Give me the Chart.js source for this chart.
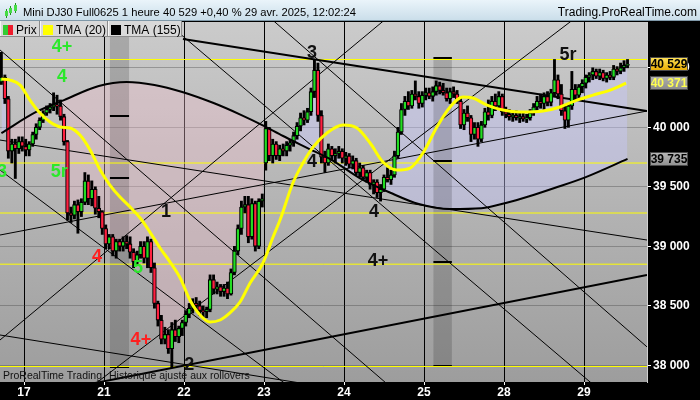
<!DOCTYPE html>
<html>
<head>
<meta charset="utf-8">
<title>Mini DJ30 Full0625 - 1 heure</title>
<script src="https://cdn.jsdelivr.net/npm/chart.js@4.4.1/dist/chart.umd.min.js"></script>
<style>
  html, body { margin: 0; padding: 0; background: #000; }
  canvas { display: block; }
</style>
</head>
<body>
<canvas id="myChart" width="700" height="400"></canvas>
<script>
// header / footer texts
const titleText = 'Mini DJ30 Full0625 1 heure 40 529 +0,40 % 29 avr. 2025, 12:02:24';
const siteText = 'Trading.ProRealTime.com';
const footText = ['ProRealTime Trading', 'Historique ajusté aux rollovers'];
const legendItems = ['Prix', 'TMA (20)', 'TMA (155)'];

// day separators (in bar units) and their labels
const dayStarts = [6.5, 29.5, 52.5, 75.5, 98.5, 121.5, 144.5, 167.5];
const dayLabels = ['17', '21', '22', '23', '24', '25', '28', '29'];
const priceTicks = [38000, 38500, 39000, 39500, 40000, 40500];

// hourly candles, bar 0 = 16 avr. 17h
const opens = [
  40380,40420,40240,39800,39860,39820,39880,39840,39810,39860,
  39940,40000,40060,40120,40150,40170,40190,40180,40090,39880,
  39280,39260,39350,39290,39370,39550,39400,39480,39320,39290,
  39150,39020,39080,38960,39040,39000,39040,39020,38950,38870,
  38930,39000,38900,39040,38820,38520,38380,38220,38260,38140,
  38300,38240,38310,38360,38430,38480,38520,38500,38460,38450,
  38470,38720,38640,38660,38620,38650,38600,38780,38960,39150,
  39330,39350,39080,39360,39000,39380,39700,39990,39760,39860,
  39760,39820,39800,39850,39870,39930,40010,40080,40060,40130,
  40300,40480,40100,39750,39700,39820,39760,39780,39800,39740,
  39760,39690,39720,39620,39660,39580,39620,39520,39540,39450,
  39480,39580,39560,39600,39760,39960,40150,40220,40180,40280,
  40260,40200,40270,40290,40260,40300,40350,40310,40290,40240,
  40300,40280,40220,40020,40120,40080,39940,40000,39900,40020,
  40130,40100,40220,40180,40260,40130,40110,40090,40100,40080,
  40090,40070,40080,40120,40170,40220,40200,40260,40210,40290,
  40400,40280,40140,40060,40180,40320,40270,40340,40370,40420,
  40440,40470,40430,40460,40410,40440,40420,40490,40470,40500,40520
];
const highs = [
  40630,40440,40260,39900,39900,39920,39920,39900,39880,39960,
  40030,40080,40140,40180,40200,40290,40270,40230,40110,39890,
  39330,39380,39390,39400,39620,39600,39550,39500,39420,39300,
  39180,39100,39100,39060,39060,39080,39090,39080,38980,38960,
  39040,39040,39080,39060,38860,38540,38420,38320,38300,38360,
  38380,38330,38380,38460,38520,38560,38570,38540,38500,38490,
  38760,38760,38700,38680,38680,38700,38810,39000,39180,39380,
  39420,39420,39400,39380,39400,39440,40050,40000,39900,39880,
  39850,39860,39880,39900,39960,40040,40120,40140,40160,40330,
  40570,40540,40140,39800,39860,39840,39820,39840,39820,39790,
  39780,39760,39740,39700,39680,39640,39640,39560,39560,39520,
  39600,39660,39640,39800,40000,40200,40260,40300,40310,40390,
  40300,40300,40330,40330,40340,40390,40380,40370,40330,40330,
  40340,40310,40250,40150,40180,40100,40040,40040,40050,40160,
  40230,40260,40280,40300,40280,40170,40150,40130,40140,40120,
  40130,40110,40150,40200,40260,40280,40290,40300,40320,40570,
  40440,40360,40180,40200,40470,40360,40360,40400,40440,40460,
  40500,40490,40490,40480,40460,40470,40520,40510,40540,40560,40570
];
const lows = [
  40360,40200,39740,39700,39570,39780,39800,39760,39760,39840,
  39900,39980,40040,40100,40120,40140,40110,40060,39850,39220,
  39200,39230,39110,39250,39350,39350,39340,39270,39240,39100,
  38980,38980,38920,38900,38960,38960,38980,38900,38820,38850,
  38900,38860,38820,38780,38480,38330,38180,38180,38100,37980,
  38200,38190,38250,38330,38400,38440,38460,38420,38400,38400,
  38450,38600,38600,38580,38580,38560,38590,38760,38930,39100,
  39280,39030,39060,38960,38980,39330,39640,39720,39700,39730,
  39720,39760,39760,39800,39840,39900,39970,40020,40040,40100,
  40250,40050,39700,39620,39680,39720,39700,39740,39700,39680,
  39660,39650,39600,39580,39560,39540,39480,39440,39410,39380,
  39460,39540,39520,39580,39740,39940,40100,40150,40160,40230,
  40160,40170,40230,40240,40220,40270,40280,40270,40220,40200,
  40250,40200,39990,39980,40050,39880,39900,39840,39880,40000,
  40060,40080,40140,40150,40100,40080,40060,40050,40060,40040,
  40050,40040,40060,40100,40140,40160,40150,40180,40180,40260,
  40240,40100,39990,40000,40150,40230,40240,40290,40330,40380,
  40400,40410,40400,40390,40380,40400,40400,40440,40450,40470,40500
];
const closes = [
  40420,40240,39800,39860,39820,39880,39840,39810,39860,39940,
  40000,40060,40120,40150,40170,40190,40180,40090,39880,39280,
  39260,39350,39290,39370,39550,39400,39480,39320,39290,39150,
  39020,39080,38960,39040,39000,39040,39020,38950,38870,38930,
  39000,38900,39040,38820,38520,38380,38220,38260,38140,38300,
  38240,38310,38360,38430,38480,38520,38500,38460,38450,38470,
  38720,38640,38660,38620,38650,38600,38780,38960,39150,39330,
  39350,39080,39360,39000,39380,39400,39990,39760,39860,39760,
  39820,39800,39850,39870,39930,40010,40080,40060,40130,40300,
  40480,40100,39750,39700,39820,39760,39780,39800,39740,39760,
  39690,39720,39620,39660,39580,39620,39520,39540,39450,39480,
  39580,39560,39600,39760,39960,40150,40220,40180,40280,40260,
  40200,40270,40290,40260,40300,40350,40310,40290,40240,40300,
  40280,40220,40020,40120,40080,39940,40000,39900,40020,40130,
  40100,40220,40180,40260,40130,40110,40090,40100,40080,40090,
  40070,40080,40120,40170,40220,40200,40260,40210,40290,40400,
  40280,40140,40060,40180,40320,40270,40340,40370,40420,40440,
  40470,40430,40460,40410,40440,40420,40490,40470,40500,40520,40529
];

// moving averages at some bars
const tma20Bars = [0,2.5,5.4,8.2,11.1,14.0,16.9,19.7,22.6,25.5,28.4,31.2,34.1,37.0,39.9,42.7,45.6,48.5,51.4,54.2,57.1,60.0,62.9,65.7,68.6,71.5,75.2,78.1,80.1,83.8,86.7,89.6,93.6,98.2,102.2,106.0,109.7,113.7,117.5,121.2,125.2,129.0,132.7,135.6,139.6,144.2,149.1,155.7,160.6,165.5,170.1,175.0,179.6];
const tma20 = [40406,40397,40355,40229,40120,40044,40003,39994,39935,39809,39641,39515,39414,39330,39238,39120,38986,38868,38734,38549,38423,38364,38381,38440,38532,38692,38860,39078,39221,39532,39700,39834,39952,40019,39994,39868,39708,39641,39658,39784,40003,40171,40255,40246,40187,40145,40129,40137,40171,40229,40271,40313,40371];
const tma155Bars = [0,10,18,28,36,44,52,61,69,75,81,88,95,103,112,120,129,138,145,152,159,168,180];
const tma155 = [39952,40129,40229,40347,40381,40356,40297,40204,40103,40019,39927,39826,39725,39574,39448,39355,39313,39320,39364,39423,39490,39582,39735];

// horizontal levels
const levels = [40570, 39700, 39280, 38850, 37990];

// trend lines: [bar, price] at both ends
const thickTrends = [
  [[52.2, 40742], [185.6, 40137]],
  [[16.9, 37794], [185.6, 38759]]
];
const thinTrends = [
  [[-0.4, 40650], [114.6, 37750]],
  [[-0.4, 39893], [185.6, 39053]],
  [[-0.4, 39095], [185.6, 40137]],
  [[74.7, 40985], [185.6, 38155]],
  [[43.3, 40986], [171.9, 37794]],
  [[-0.4, 38213], [113.6, 40986]],
  [[25.4, 37810], [168.0, 40986]],
  [[-0.4, 39641], [84.4, 37785]],
  [[-0.4, 38255], [94.8, 37810]]
];

// grey time zones with their marks
const zoneFrom = [31.2, 124.2];
const zoneTo = [36.7, 129.5];
const zoneTop = [40885, 40585];
const zoneBottom = [37988, 37997];
const zoneMarks = [[40097, 39576, 37988], [40585, 39717, 38866, 37997]];

// wave counts
const waveText = ['4+', '4', '3', '5r', '4', '5', '4+', '1', '2', '3', '4', '4', '4+', '5r'];
const waveBar = [17.4, 17.4, 0.2, 16.6, 27.5, 39.3, 40.1, 47.3, 54.0, 89.3, 89.3, 107.1, 108.3, 162.9];
const wavePrice = [40675, 40423, 39624, 39624, 38910, 38818, 38213, 39288, 38003, 40624, 39708, 39288, 38876, 40608];
const waveKind = ['g', 'g', 'g', 'g', 'r', 'g', 'r', 'k', 'k', 'k', 'k', 'k', 'k', 'k'];

const waveColors = { g: '#2be82b', r: '#ff2020', k: '#111111' };
const FONT = '"Liberation Sans", Arial, sans-serif';
const FILL_INDEX = 4;

function fmt(v) {
  return String(Math.round(v)).replace(/\B(?=(\d{3})+(?!\d))/g, ' ');
}

function pts(xs, ys) {
  return xs.map(function(x, i) { return { x: x, y: ys[i] }; });
}

// value tag on the right axis
function drawTag(ctx, y, value, top, bottom, textColor) {
  const x = 650, w = 38, h = 14;
  const y0 = Math.round(y - h / 2);
  const g = ctx.createLinearGradient(0, y0, 0, y0 + h);
  g.addColorStop(0, top);
  g.addColorStop(1, bottom);
  ctx.fillStyle = g;
  ctx.fillRect(x, y0, w, h);
  ctx.strokeStyle = '#4a4a4a';
  ctx.lineWidth = 1;
  ctx.strokeRect(x + 0.5, y0 + 0.5, w - 1, h - 1);
  ctx.fillStyle = textColor;
  ctx.font = 'bold 12px ' + FONT;
  ctx.textAlign = 'center';
  ctx.textBaseline = 'middle';
  ctx.fillText(fmt(value), x + w / 2, y0 + h / 2 + 0.5);
}

const chrome = {
  id: 'chrome',
  beforeDraw: function(chart) {
    const ctx = chart.ctx, a = chart.chartArea;
    ctx.save();
    ctx.fillStyle = '#000000';
    ctx.fillRect(0, 0, chart.width, chart.height);
    const g = ctx.createLinearGradient(0, a.top, 0, a.bottom);
    g.addColorStop(0, '#cbcbcb');
    g.addColorStop(1, '#9d9d9d');
    ctx.fillStyle = g;
    ctx.fillRect(a.left, a.top, a.right - a.left, a.bottom - a.top);
    ctx.restore();
  },
  afterDatasetDraw: function(chart, args) {
    if (args.index !== FILL_INDEX) return;
    const ctx = chart.ctx, a = chart.chartArea;
    const xs = chart.scales.x, ys = chart.scales.y;
    ctx.save();
    ctx.beginPath();
    ctx.rect(a.left, a.top, a.right - a.left, a.bottom - a.top);
    ctx.clip();
    zoneFrom.forEach(function(f, k) {
      const x0 = xs.getPixelForValue(f), x1 = xs.getPixelForValue(zoneTo[k]);
      const y0 = ys.getPixelForValue(zoneTop[k]), y1 = ys.getPixelForValue(zoneBottom[k]);
      ctx.fillStyle = 'rgba(0,0,0,0.16)';
      ctx.fillRect(x0, y0, x1 - x0, y1 - y0);
      ctx.fillStyle = '#000000';
      zoneMarks[k].forEach(function(p) {
        ctx.fillRect(x0, Math.round(ys.getPixelForValue(p)) - 1, x1 - x0, 2);
      });
    });
    ctx.restore();
  },
  afterDatasetsDraw: function(chart) {
    const ctx = chart.ctx, a = chart.chartArea;
    const xs = chart.scales.x, ys = chart.scales.y;
    ctx.save();
    ctx.beginPath();
    ctx.rect(a.left, a.top, a.right - a.left, a.bottom - a.top);
    ctx.clip();
    // wave counts
    ctx.font = 'bold 18px ' + FONT;
    ctx.textAlign = 'center';
    ctx.textBaseline = 'middle';
    waveText.forEach(function(t, i) {
      ctx.fillStyle = waveColors[waveKind[i]];
      ctx.fillText(t, xs.getPixelForValue(waveBar[i]), ys.getPixelForValue(wavePrice[i]));
    });
    // footer
    ctx.font = '10.5px ' + FONT;
    ctx.textAlign = 'left';
    ctx.textBaseline = 'alphabetic';
    ctx.fillStyle = '#111111';
    ctx.fillText(footText[0], a.left + 3, a.bottom - 3);
    ctx.fillText(footText[1], a.left + 3 + ctx.measureText(footText[0]).width + 7, a.bottom - 3);
    ctx.restore();
  },
  afterDraw: function(chart) {
    const ctx = chart.ctx, ys = chart.scales.y;
    ctx.save();
    // title bar
    const g = ctx.createLinearGradient(0, 0, 0, 21);
    g.addColorStop(0, '#eaf4fa');
    g.addColorStop(1, '#c9dde9');
    ctx.fillStyle = g;
    ctx.fillRect(0, 0, chart.width, 21);
    ctx.fillStyle = '#7f98a8';
    ctx.fillRect(0, 20, chart.width, 1);
    // little candle icon
    ctx.fillStyle = '#1f8f1f';
    ctx.fillRect(6, 9, 1, 9);
    ctx.fillRect(10, 6, 1, 9);
    ctx.fillRect(15, 3, 1, 10);
    ctx.fillStyle = '#44dd44';
    ctx.fillRect(5, 11, 3, 5);
    ctx.fillRect(9, 8, 3, 5);
    ctx.fillRect(14, 5, 3, 6);
    ctx.fillStyle = '#000000';
    ctx.textBaseline = 'alphabetic';
    ctx.textAlign = 'left';
    ctx.font = '11.2px ' + FONT;
    ctx.fillText(titleText, 23, 16);
    ctx.font = '12px ' + FONT;
    ctx.textAlign = 'right';
    ctx.fillText(siteText, 697, 16);
    // legend boxes
    const boxes = [[0, 40], [40, 108], [108, 182]];
    const swatches = [null, '#ffff00', '#000000'];
    boxes.forEach(function(b, i) {
      ctx.fillStyle = '#d9d9d9';
      ctx.fillRect(b[0], 21, b[1] - b[0], 16);
      ctx.fillStyle = '#f6f6f6';
      ctx.fillRect(b[0], 21, 1, 16);
      ctx.fillStyle = '#8c8c8c';
      ctx.fillRect(b[1] - 1, 21, 1, 16);
      ctx.fillRect(b[0], 36, b[1] - b[0], 1);
      if (swatches[i]) {
        ctx.fillStyle = swatches[i];
        ctx.fillRect(b[0] + 3, 25, 10, 10);
      } else {
        ctx.fillStyle = '#33cc33';
        ctx.fillRect(b[0] + 3, 25, 5, 10);
        ctx.fillStyle = '#ee1c2c';
        ctx.fillRect(b[0] + 8, 25, 5, 10);
      }
      ctx.fillStyle = '#000000';
      ctx.textAlign = 'left';
      ctx.fillText(legendItems[i], b[0] + 16, 34);
    });
    // last values
    const last = closes.length - 1;
    drawTag(ctx, ys.getPixelForValue(tma155[tma155.length - 1]), tma155[tma155.length - 1], '#b8b8b8', '#909090', '#000000');
    drawTag(ctx, ys.getPixelForValue(tma20[tma20.length - 1]), tma20[tma20.length - 1], '#b0b0b0', '#8a8a8a', '#ffff50');
    drawTag(ctx, ys.getPixelForValue(closes[last]), closes[last], '#ffe45c', '#e8aa00', '#000000');
    ctx.restore();
  }
};

document.addEventListener('DOMContentLoaded', function() {
  Chart.defaults.font.family = FONT;

  const bodyColors = closes.map(function(c, i) { return c >= opens[i] ? '#22dd22' : '#ff2040'; });

  const datasets = [
    { // 0
      type: 'line', label: 'TMA (20)', data: pts(tma20Bars, tma20),
      borderColor: '#ffff00', borderWidth: 3, pointRadius: 0,
      cubicInterpolationMode: 'monotone', fill: false, order: 1
    },
    { // 1
      type: 'line', label: 'TMA (155)', data: pts(tma155Bars, tma155),
      borderColor: '#000000', borderWidth: 2, pointRadius: 0,
      cubicInterpolationMode: 'monotone', fill: false, order: 2
    },
    { // 2 bodies
      type: 'bar', label: 'Prix',
      data: opens.map(function(o, i) { return { x: i, y: [o, closes[i]] }; }),
      backgroundColor: bodyColors, borderColor: '#000000', borderWidth: 1.1,
      borderSkipped: false, barThickness: 3.8, grouped: false, order: 3
    },
    { // 3 wicks
      type: 'bar', label: 'wicks',
      data: lows.map(function(l, i) { return { x: i, y: [l, highs[i]] }; }),
      backgroundColor: '#000000', borderWidth: 0,
      barThickness: 2.2, grouped: false, order: 4
    },
    { // 4 price line only used for the shading against TMA (155)
      type: 'line', label: 'fill',
      data: closes.map(function(c, i) { return { x: i, y: c }; }),
      borderColor: 'rgba(0,0,0,0)', borderWidth: 0, pointRadius: 0,
      fill: { target: 1, above: 'rgba(200,200,255,0.42)', below: 'rgba(240,190,205,0.36)' },
      order: 10
    }
  ];

  levels.forEach(function(v) {
    datasets.push({
      type: 'line', data: [{ x: -0.4, y: v }, { x: 185.6, y: v }],
      borderColor: '#ffff00', borderWidth: 1, pointRadius: 0, fill: false, order: 8
    });
  });
  thickTrends.forEach(function(t) {
    datasets.push({
      type: 'line', data: [{ x: t[0][0], y: t[0][1] }, { x: t[1][0], y: t[1][1] }],
      borderColor: '#000000', borderWidth: 2, pointRadius: 0, fill: false, order: 7
    });
  });
  thinTrends.forEach(function(t) {
    datasets.push({
      type: 'line', data: [{ x: t[0][0], y: t[0][1] }, { x: t[1][0], y: t[1][1] }],
      borderColor: '#000000', borderWidth: 1, pointRadius: 0, fill: false, order: 7
    });
  });

  const ctx = document.getElementById('myChart');
  window.myChart = new Chart(ctx, {
    type: 'line',
    data: { datasets: datasets },
    plugins: [chrome],
    options: {
      responsive: false,
      animation: false,
      events: [],
      devicePixelRatio: 1,
      layout: { padding: { top: 22, left: 0, right: 0, bottom: 0 } },
      plugins: {
        legend: { display: false },
        tooltip: { enabled: false },
        title: { display: false }
      },
      scales: {
        x: {
          type: 'linear', min: -0.4, max: 185.6, offset: false,
          afterBuildTicks: function(scale) {
            scale.ticks = dayStarts.map(function(v) { return { value: v }; });
          },
          afterFit: function(scale) { scale.height = 18; },
          ticks: {
            color: '#ffffff', padding: 0, maxRotation: 0, autoSkip: false,
            font: { size: 12, weight: 'bold' },
            callback: function(v, i) { return dayLabels[i]; }
          },
          grid: { color: '#000000', lineWidth: 1, tickLength: 3, tickColor: '#ffffff', offset: false },
          border: { display: false }
        },
        y: {
          type: 'linear', position: 'right', min: 37860, max: 40885,
          afterBuildTicks: function(scale) {
            scale.ticks = priceTicks.map(function(v) { return { value: v }; });
          },
          afterFit: function(scale) { scale.width = 53; },
          ticks: {
            color: '#ffffff', padding: 2,
            font: { size: 12, weight: 'bold' },
            callback: function(v) { return fmt(v); }
          },
          grid: { color: 'rgba(60,60,60,0.35)', lineWidth: 1, tickLength: 4, tickColor: '#ffffff' },
          border: { color: '#d0d0d0' }
        }
      }
    }
  });
});
</script>
</body>
</html>
